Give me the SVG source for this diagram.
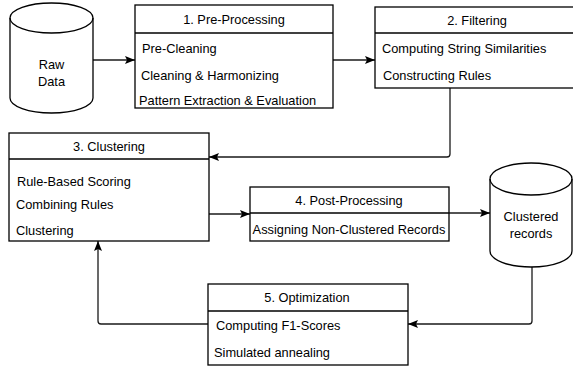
<svg xmlns="http://www.w3.org/2000/svg" width="573" height="367" viewBox="0 0 573 367">
<defs>
<marker id="arr" markerUnits="userSpaceOnUse" markerWidth="10" markerHeight="10" viewBox="0 0 10 10" refX="10" refY="5" orient="auto">
<path d="M0,1 L10,5 L0,9 L2,5 Z" fill="#000"/>
</marker>
</defs>
<style>
.box{fill:#fff;stroke:#000;stroke-width:1.3}
.ln{fill:none;stroke:#000;stroke-width:1.3}
.cn{fill:none;stroke:#1a1a1a;stroke-width:1.3;marker-end:url(#arr)}
text{font-family:"Liberation Sans",Arial,sans-serif;font-size:12.8px;fill:#000}
.c{text-anchor:middle}
</style>
<rect width="573" height="367" fill="#fff"/>
<g id="connectors">
<path class="cn" d="M93,60 H135"/>
<path class="cn" d="M333,60 H375"/>
<path class="cn" d="M450,88 V154 Q450,157 447,157 H209"/>
<path class="cn" d="M209,214 H250"/>
<path class="cn" d="M449,213 H490"/>
<path class="cn" d="M532,267 V321 Q532,324 529,324 H408"/>
<path class="cn" d="M208,324 H101 Q98,324 98,321 V241"/>
</g>
<g id="raw-data">
<path class="box" d="M10,18 A41.5,15 0 0 1 93,18 V98 A41.5,15 0 0 1 10,98 Z"/>
<path class="ln" d="M10,18 A41.5,15 0 0 0 93,18"/>
<text class="c" x="51.5" y="69">Raw</text>
<text class="c" x="51.5" y="86">Data</text>
</g>
<g id="pre-processing">
<rect class="box" x="135" y="5" width="198" height="103"/>
<line class="ln" x1="135" y1="33" x2="333" y2="33"/>
<text class="c" x="234" y="24">1. Pre-Processing</text>
<text x="142" y="52.5">Pre-Cleaning</text>
<text x="141" y="80">Cleaning &amp; Harmonizing</text>
<text x="139" y="105">Pattern Extraction &amp; Evaluation</text>
</g>
<g id="filtering">
<rect class="box" x="375" y="7" width="205" height="81"/>
<line class="ln" x1="375" y1="33" x2="580" y2="33"/>
<text class="c" x="477" y="24.5">2. Filtering</text>
<text x="382" y="52.5">Computing String Similarities</text>
<text x="383" y="80">Constructing Rules</text>
</g>
<g id="clustering">
<rect class="box" x="9" y="133" width="200" height="108"/>
<line class="ln" x1="9" y1="159" x2="209" y2="159"/>
<text class="c" x="109" y="151">3. Clustering</text>
<text x="17" y="186">Rule-Based Scoring</text>
<text x="16" y="208.5">Combining Rules</text>
<text x="16" y="235">Clustering</text>
</g>
<g id="post-processing">
<rect class="box" x="250" y="187" width="199" height="54"/>
<line class="ln" x1="250" y1="213" x2="449" y2="213"/>
<text class="c" x="349" y="205">4. Post-Processing</text>
<text class="c" x="349" y="234">Assigning Non-Clustered Records</text>
</g>
<g id="clustered-records">
<path class="box" d="M490,179 A41,16 0 0 1 572,179 V251 A41,16 0 0 1 490,251 Z"/>
<path class="ln" d="M490,179 A41,16 0 0 0 572,179"/>
<text class="c" x="531" y="221">Clustered</text>
<text class="c" x="531" y="238">records</text>
</g>
<g id="optimization">
<rect class="box" x="208" y="284" width="200" height="81"/>
<line class="ln" x1="208" y1="311" x2="408" y2="311"/>
<text class="c" x="307" y="301.5">5. Optimization</text>
<text x="216" y="330">Computing F1-Scores</text>
<text x="214" y="356.5">Simulated annealing</text>
</g>
</svg>
